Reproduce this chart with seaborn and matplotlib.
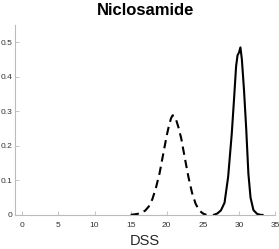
import seaborn as sns
import matplotlib.pyplot as plt
import pandas as pd

# Verteilung der DSS-Werte
dss_ref = [15, 16, 17, 17.5, 18, 18.5, 19, 19.5, 20, 20.3, 20.6, 20.8, 21,
           21.3, 21.6, 22, 22.5, 23, 23.5, 24, 24.5, 25, 25.5]
dens_ref = [0, 0.003, 0.012, 0.024, 0.045, 0.078, 0.12, 0.175, 0.23, 0.258,
            0.28, 0.288, 0.287, 0.275, 0.255, 0.222, 0.165, 0.11, 0.064, 0.032,
            0.013, 0.004, 0]

dss_drug = [26.5, 27, 27.5, 28, 28.5, 29, 29.3, 29.6, 29.8, 30, 30.2, 30.4,
            30.7, 31, 31.3, 31.6, 32, 32.5, 33, 33.3]
dens_drug = [0, 0.004, 0.013, 0.035, 0.11, 0.235, 0.33, 0.43, 0.462, 0.47,
             0.485, 0.45, 0.36, 0.25, 0.12, 0.05, 0.014, 0.003, 0, 0]

x_ticks = [0, 5, 10, 15, 20, 25, 30, 35]
y_ticks = [0, 0.1, 0.2, 0.3, 0.4, 0.5]

sns.set_style("ticks")
plt.rcParams["font.family"] = ["Liberation Sans", "DejaVu Sans"]

fig = plt.figure(figsize=(2.79, 2.49), dpi=100)
ax = fig.add_axes([0.054, 0.137, 0.932, 0.763])

df1 = pd.DataFrame({"DSS": dss_ref, "dens": dens_ref})
df2 = pd.DataFrame({"DSS": dss_drug, "dens": dens_drug})
sns.lineplot(data=df1, x="DSS", y="dens", ax=ax, color="black", lw=1.5,
             linestyle=(0, (4, 2.5)))
sns.lineplot(data=df2, x="DSS", y="dens", ax=ax, color="black", lw=1.5)

ax.set_xlim(-1, 35)
ax.set_ylim(0, 0.55)
ax.set_xticks(x_ticks)
ax.set_yticks(y_ticks)
ax.set_xticklabels([str(t) for t in x_ticks])
ax.set_yticklabels(["0", "0.1", "0.2", "0.3", "0.4", "0.5"])
ax.tick_params(direction="in", length=3, width=0.6, labelsize=6,
               colors="#bbbbbb", labelcolor="#333333", pad=2)
ax.tick_params(axis="x", pad=5)
for s in ["top", "right"]:
    ax.spines[s].set_visible(False)
for s in ["left", "bottom"]:
    ax.spines[s].set_color("#bbbbbb")
    ax.spines[s].set_linewidth(0.8)

ax.set_title("Niclosamide", fontsize=12, fontweight="bold", color="black", pad=7)
ax.set_xlabel("DSS", fontsize=10.5, color="#262626", labelpad=4)
ax.set_ylabel("")

fig.savefig("out.png", dpi=100)
